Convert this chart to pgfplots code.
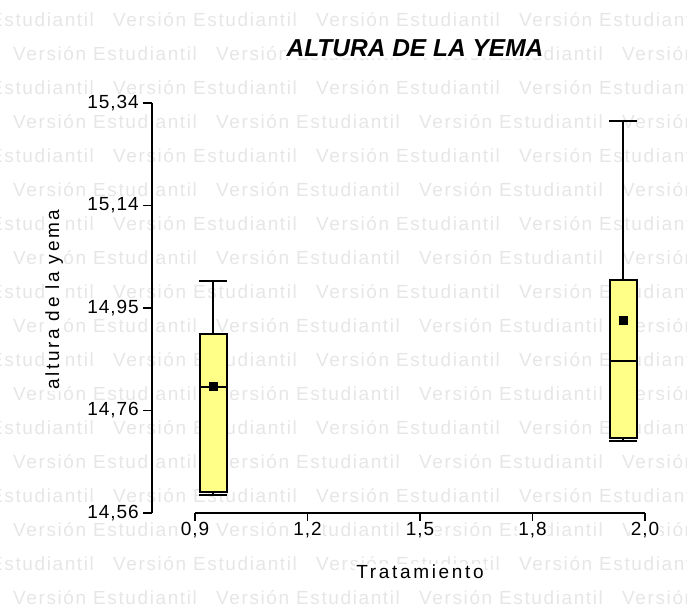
\documentclass[border=0pt]{standalone}
\usepackage{pgfplots}
\pgfplotsset{compat=1.18}
\usepackage{fontspec}
\setmainfont{Liberation Sans}
\newfontfamily\wmfont[LetterSpace=8.5]{Liberation Sans}
\newfontfamily\lblfont[LetterSpace=14]{Liberation Sans}
\newfontfamily\tickfont[LetterSpace=5]{Liberation Sans}
\definecolor{wm}{RGB}{230,230,230}
\definecolor{boxfill}{RGB}{255,255,136}
\pgfplotsset{bx/.style={black, solid, mark=none, line width=2pt}}

\begin{document}
\begin{tikzpicture}[x=1pt,y=1pt]
\useasboundingbox (0,0) rectangle (687,609);
% watermark
\foreach \k in {0,2,...,16}{
  \foreach \j in {0,...,4}{
    \node[anchor=base west, inner sep=0pt, text=wm, font=\wmfont\fontsize{19}{19}\selectfont] at ({-90+203*\j},{582-34*\k}) {Versión Estudiantil};
  }
}
\foreach \k in {1,3,...,17}{
  \foreach \j in {0,...,3}{
    \node[anchor=base west, inner sep=0pt, text=wm, font=\wmfont\fontsize{19}{19}\selectfont] at ({13+203*\j},{582-34*\k}) {Versión Estudiantil};
  }
}

\begin{axis}[
  at={(152pt,96pt)}, anchor=south west,
  scale only axis, width=493pt, height=410pt,
  xmin=0.7949, xmax=2.0, ymin=14.56, ymax=15.34,
  axis x line=none, axis y line*=left,
  ytick={14.56,14.755,14.95,15.145,15.34},
  yticklabels={{14,56},{14,76},{14,95},{15,14},{15,34}},
  tick align=outside, major tick length=9pt,
  ytick style={line width=1.8pt, black},
  axis line style={line width=1.8pt, black},
  yticklabel style={font=\tickfont\fontsize{19}{19}\selectfont, fill=white, inner sep=1pt, xshift=-3pt},
  ylabel={altura de la yema},
  ylabel style={font=\lblfont\fontsize{19}{19}\selectfont, at={(axis description cs:-0.1886,0.52)}, anchor=base, fill=white, inner sep=1pt},
  title={\bfseries\itshape ALTURA DE LA YEMA},
  title style={font=\fontsize{24.5}{24.5}\selectfont, at={(axis description cs:0.5335,1)}, anchor=base, yshift=40pt, fill=white, inner sep=1pt},
  clip=false,
]
% Treatment 1
\addplot[bx, fill=boxfill] coordinates {(0.912,14.600) (0.978,14.600) (0.978,14.900) (0.912,14.900)} -- cycle;
\addplot[bx] coordinates {(0.912,14.800) (0.981,14.800)};
\addplot[bx] coordinates {(0.945,14.900) (0.945,15.001)};
\addplot[bx] coordinates {(0.911,15.001) (0.979,15.001)};
\addplot[bx] coordinates {(0.945,14.600) (0.945,14.594)};
\addplot[bx] coordinates {(0.911,14.594) (0.979,14.594)};
% Treatment 2
\addplot[bx, fill=boxfill] coordinates {(1.914,14.703) (1.980,14.703) (1.980,15.003) (1.914,15.003)} -- cycle;
\addplot[bx] coordinates {(1.914,14.849) (1.983,14.849)};
\addplot[bx] coordinates {(1.947,15.003) (1.947,15.306)};
\addplot[bx] coordinates {(1.913,15.306) (1.981,15.306)};
\addplot[bx] coordinates {(1.947,14.703) (1.947,14.697)};
\addplot[bx] coordinates {(1.913,14.697) (1.981,14.697)};
% means
\addplot[only marks, mark=square*, mark size=4pt, black] coordinates {(0.945,14.801) (1.947,14.927)};
\end{axis}

\begin{axis}[
  at={(195pt,96pt)}, anchor=south west,
  scale only axis, width=450pt, height=20pt,
  xmin=0.9, xmax=2.0, ymin=0, ymax=1,
  axis y line=none, axis x line*=bottom,
  xtick={0.9,1.175,1.45,1.725,2.0},
  xticklabels={{0,9},{1,2},{1,5},{1,8},{2,0}},
  tick align=outside, major tick length=8pt,
  xtick style={line width=1.8pt, black},
  axis line style={line width=1.8pt, black},
  xticklabel style={font=\tickfont\fontsize{19}{19}\selectfont, fill=white, inner sep=1pt},
  xlabel={Tratamiento},
  xlabel style={font=\lblfont\fontsize{19}{19}\selectfont, at={(axis description cs:0.5,0)}, anchor=base, yshift=-66pt, fill=white, inner sep=1pt},
]
\end{axis}
\end{tikzpicture}
\end{document}
